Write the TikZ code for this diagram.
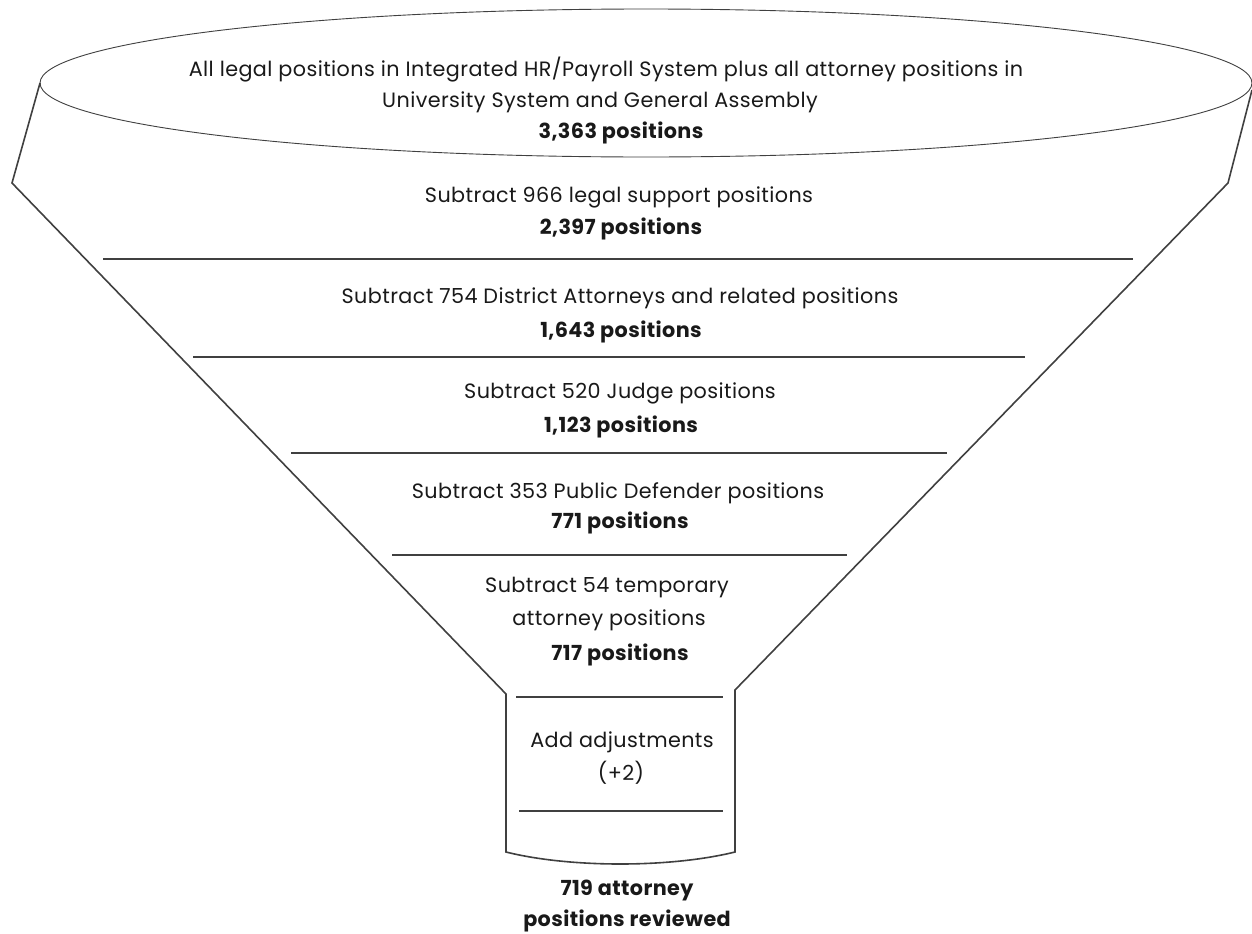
\documentclass[tikz,border=0pt]{standalone}
\usepackage{fontspec}
\setmainfont{Poppins}[LetterSpace=2]
\begin{document}
\begin{tikzpicture}[x=1bp,y=-1bp,
  funnel/.style={draw=black!75, line width=1.6bp, line join=miter},
  rim/.style={draw=black!75, line width=0.9bp},
  level/.style={draw=black!75, line width=1.8bp},
  txt/.style={font=\fontsize{20.8}{33}\selectfont, text=black!90, align=center, inner sep=0pt},
  num/.style={font=\fontsize{20.8}{33}\selectfont\bfseries, text=black!90, align=center, inner sep=0pt}]
\useasboundingbox (0,0) rectangle (1252,934);
\fill[white] (0,0) rectangle (1252,934);
% rim ellipse
\draw[rim] (646,83) ellipse [x radius=606, y radius=74];
% funnel outline
\draw[funnel] (40,83) -- (12,183) -- (506,694) -- (506,852)
  .. controls (570,868) and (670,868) .. (735,852) -- (735,690) -- (1228,183) -- (1252,90);
% level lines
\draw[level] (103,259) -- (1133,259);
\draw[level] (193,357) -- (1025,357);
\draw[level] (291,453) -- (947,453);
\draw[level] (392,555) -- (847,555);
\draw[level] (516,697) -- (723,697);
\draw[level] (519,811) -- (723,811);
% texts
\node[txt] (t0) at (606,70) {All legal positions in Integrated HR/Payroll System plus all attorney positions in};
\node[txt] (t0b) at (600,102) {University System and General Assembly};
\node[num] (n0) at (621,133) {3,363 positions};
\node[txt] (t1) at (619,197) {Subtract 966 legal support positions};
\node[num] (n1) at (621,229) {2,397 positions};
\node[txt] (t2) at (620,298) {Subtract 754 District Attorneys and related positions};
\node[num] (n2) at (621,332) {1,643 positions};
\node[txt] (t3) at (620,393) {Subtract 520 Judge positions};
\node[num] (n3) at (621,427) {1,123 positions};
\node[txt] (t4) at (618,493) {Subtract 353 Public Defender positions};
\node[num] (n4) at (620,523) {771 positions};
\node[txt] (t5) at (607,588) {Subtract 54 temporary};
\node[txt] (t5b) at (609,620) {attorney positions};
\node[num] (n5) at (620,655) {717 positions};
\node[txt] (t6) at (622,742) {Add adjustments};
\node[txt] (t6b) at (621,773) {(+2)};
\node[num] (n6) at (627,890) {719 attorney};
\node[num] (n6b) at (627,921) {positions reviewed};
\end{tikzpicture}
\end{document}
